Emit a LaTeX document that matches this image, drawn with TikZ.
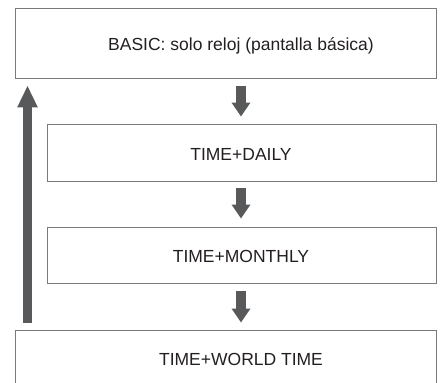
\documentclass[tikz,border=0pt]{standalone}
\usepackage{fontspec}
\setmainfont{Liberation Sans}
\usetikzlibrary{arrows.meta}
\definecolor{boxline}{HTML}{7A7A7A}
\definecolor{arrowgray}{HTML}{58595B}
\definecolor{txt}{HTML}{231F20}
\begin{document}
\begin{tikzpicture}[x=1pt,y=1pt,
  box/.style={draw=boxline,line width=0.9pt,minimum height=#1,inner sep=0pt},
  lbl/.style={text=txt,font=\fontsize{17.5}{20}\selectfont,inner sep=0pt,anchor=base},
  blockarrow/.style={draw=arrowgray,line width=9.5pt,-{Triangle[width=18pt,length=14pt]}},
  backarrow/.style={draw=arrowgray,line width=9.5pt,-{Triangle[width=19pt,length=22pt]}}]
\useasboundingbox (0,0) rectangle (440,383);
\clip (0,0) rectangle (440,383);
\node[box=70pt,minimum width=421pt] (b1) at (225.5,340) {};
\node[box=57pt,minimum width=389pt] (b2) at (241.5,230.5) {};
\node[box=56pt,minimum width=389pt] (b3) at (241.5,128) {};
\node[box=60pt,minimum width=421pt] (b4) at (225.5,23) {};
\node[lbl] (t1) at (241,332) {BASIC: solo reloj (pantalla básica)};
\node[lbl] (t2) at (241,222) {TIME+DAILY};
\node[lbl] (t3) at (241,120) {TIME+MONTHLY};
\node[lbl] (t4) at (241,17) {TIME+WORLD TIME};
\draw[blockarrow] ([yshift=-8pt]b1.south -| t1.center) -- ([yshift=7pt]b2.north -| t1.center);
\draw[blockarrow] ([yshift=-7pt]b2.south -| t1.center) -- ([yshift=8pt]b3.north -| t1.center);
\draw[blockarrow] ([yshift=-8pt]b3.south -| t1.center) -- ([yshift=7pt]b4.north -| t1.center);
\coordinate (lx) at (27.5,0);
\draw[backarrow] ([yshift=7pt]b4.north -| lx) -- ([yshift=-7pt]b1.south -| lx);
\end{tikzpicture}
\end{document}
